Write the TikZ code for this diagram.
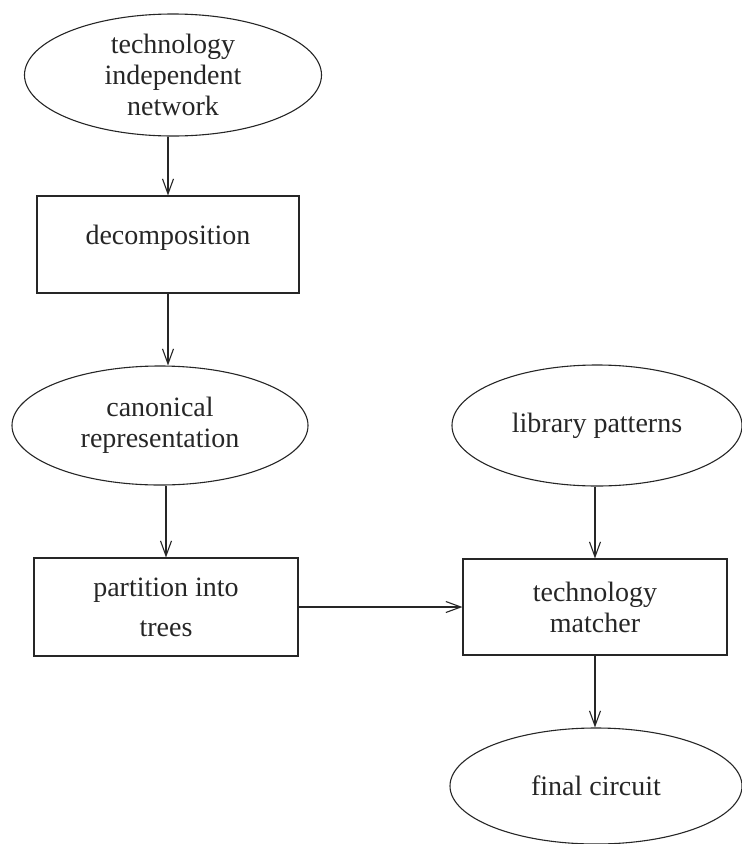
\documentclass[tikz,border=0pt]{standalone}
\usepackage{fontspec}
\setmainfont{Liberation Serif}
\usetikzlibrary{shapes.geometric,arrows.meta}

\tikzset{
  flow/.style={line width=1.1pt, draw=black!85},
  txt/.style={font=\fontsize{28}{31}\selectfont, align=center, text=black!85},
  oval/.style={flow, ellipse, inner sep=0pt},
  box/.style={flow, rectangle, inner sep=0pt, txt},
  link/.style={flow, -{Straight Barb[length=15pt,width=11pt,line width=1.1pt]}},
}

\begin{document}
\begin{tikzpicture}[x=1pt,y=-1pt]
  \useasboundingbox (0,0) rectangle (742,844);

  % left column: network flow
  \node[oval, minimum width=297pt, minimum height=122pt,
        label={[txt]center:{technology\\independent\\network}}] (tin) at (173,75) {};
  \node[box, minimum width=262pt, minimum height=97pt,
        label={[txt,yshift=7pt]center:{decomposition}}] (dec) at (168,244.5) {};
  \node[oval, minimum width=296pt, minimum height=119pt,
        label={[txt]center:{canonical\\representation}}] (can) at (160,425.5) {};
  \node[box, minimum width=264pt, minimum height=98pt] (par) at (166,607)
        {partition into\\[9pt]trees};

  % right column: matching
  \node[oval, minimum width=290pt, minimum height=121pt,
        label={[txt]center:{library patterns}}] (lib) at (597,425.5) {};
  \node[box, minimum width=264pt, minimum height=96pt] (mat) at (595,607)
        {technology\\matcher};
  \node[oval, minimum width=292pt, minimum height=116pt,
        label={[txt]center:{final circuit}}] (fin) at (596,786) {};

  % connectors
  \draw[link] (tin.south -| dec.north) -- (dec.north);
  \draw[link] (dec.south) -- (dec.south |- can.north);
  \draw[link] (par.north |- can.south) -- (par.north);
  \draw[link] (par.east) -- (par.east -| mat.west);
  \draw[link] (lib.south -| mat.north) -- (mat.north);
  \draw[link] (mat.south) -- (mat.south |- fin.north);
\end{tikzpicture}
\end{document}
